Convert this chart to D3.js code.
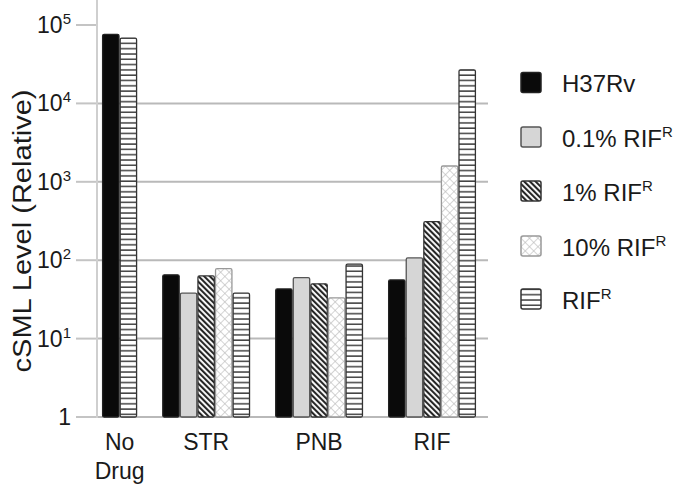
<!DOCTYPE html>
<html>
<head>
<meta charset="utf-8">
<script src="https://cdn.jsdelivr.net/npm/d3@7"></script>
<style>
  body { margin: 0; background: #fff; }
  svg text { font-family: "Liberation Sans", Arial, sans-serif; fill: #1a1a1a; }
</style>
</head>
<body>
<div id="chart"></div>
<script>
'use strict';

// categories along x
const categories = ['No Drug', 'STR', 'PNB', 'RIF'];
// series names (base text + superscript)
const seriesNames = ['H37Rv', '0.1% RIF', '1% RIF', '10% RIF', 'RIF'];
const seriesSup = ['', 'R', 'R', 'R', 'R'];
// values per series, one per category (null = not measured)
const h37rv = [76000, 65, 43, 56];
const rif01 = [null, 38, 60, 107];
const rif1 = [null, 63, 50, 310];
const rif10 = [null, 78, 33, 1590];
const rifR = [68000, 38, 89, 26800];
const seriesValues = [h37rv, rif01, rif1, rif10, rifR];
// y ticks
const yTicks = [1, 10, 100, 1000, 10000, 100000];
const yTickExp = ['', '1', '2', '3', '4', '5'];

const width = 680, height = 485;

let svg = d3.select('#chart').append('svg')
    .attr('width', width)
    .attr('height', height);

// patterns
let defs = svg.append('defs');

let pHatch = defs.append('pattern')
    .attr('id', 'hatch')
    .attr('patternUnits', 'userSpaceOnUse')
    .attr('width', 4).attr('height', 4)
    .attr('patternTransform', 'rotate(-45)');
pHatch.append('rect').attr('width', 4).attr('height', 4).attr('fill', '#fff');
pHatch.append('line').attr('x1', 1).attr('y1', 0).attr('x2', 1).attr('y2', 4)
    .attr('stroke', '#262626').attr('stroke-width', 2.2);

let pCross = defs.append('pattern')
    .attr('id', 'cross')
    .attr('patternUnits', 'userSpaceOnUse')
    .attr('width', 6).attr('height', 6)
    .attr('patternTransform', 'rotate(45)');
pCross.append('rect').attr('width', 6).attr('height', 6).attr('fill', '#fff');
pCross.append('line').attr('x1', 0).attr('y1', 0).attr('x2', 0).attr('y2', 6)
    .attr('stroke', '#b8b8b8').attr('stroke-width', 1.2);
pCross.append('line').attr('x1', 0).attr('y1', 0).attr('x2', 6).attr('y2', 0)
    .attr('stroke', '#b8b8b8').attr('stroke-width', 1.2);

let pStripe = defs.append('pattern')
    .attr('id', 'stripe')
    .attr('patternUnits', 'userSpaceOnUse')
    .attr('width', 6).attr('height', 5.3);
pStripe.append('rect').attr('width', 6).attr('height', 5.3).attr('fill', '#fff');
pStripe.append('line').attr('x1', 0).attr('y1', 1).attr('x2', 6).attr('y2', 1)
    .attr('stroke', '#333').attr('stroke-width', 1.4);

const fills = ['#0a0a0a', '#d6d6d6', 'url(#hatch)', 'url(#cross)', 'url(#stripe)'];
const strokes = ['#222', '#555', '#333', '#999', '#333'];

// scales
let y = d3.scaleLog().domain([1, 100000]).range([417, 25]);

// bar slots: each bar takes one unit, groups separated by a gap
const gapUnits = 1.42;
let slots = [];
let cursor = 0;
let catCenters = [];
categories.forEach(function(c, ci) {
    if (ci > 0) cursor += gapUnits;
    let start = cursor;
    seriesValues.forEach(function(vals, si) {
        if (vals[ci] !== null) {
            slots.push({cat: ci, series: si, value: vals[ci], unit: cursor});
            cursor += 1;
        }
    });
    catCenters.push((start + cursor) / 2);
});
let x = d3.scaleLinear().domain([0, cursor]).range([102, 476]);
const bw = x(1) - x(0);

// grid lines
let g = svg.append('g');
g.selectAll('.grid')
    .data(yTicks.slice(0, 5))
    .enter().append('line')
    .attr('x1', 97).attr('x2', 488)
    .attr('y1', d => y(d)).attr('y2', d => y(d))
    .attr('stroke', '#b9b9b9').attr('stroke-width', 2);

// tick marks
g.selectAll('.tick')
    .data(yTicks)
    .enter().append('line')
    .attr('x1', 76).attr('x2', 97)
    .attr('y1', d => y(d)).attr('y2', d => y(d))
    .attr('stroke', '#c4c4c4').attr('stroke-width', 2);

// y axis line
g.append('line')
    .attr('x1', 97).attr('x2', 97)
    .attr('y1', 0).attr('y2', 418)
    .attr('stroke', '#cfcfcf').attr('stroke-width', 2);

// tick labels
let labels = g.selectAll('.tl')
    .data(yTicks)
    .enter().append('text')
    .attr('x', 71)
    .attr('y', d => y(d) + 8)
    .attr('text-anchor', 'end')
    .style('font-size', '23px');
labels.append('tspan').text((d, i) => i === 0 ? '1' : '10');
labels.append('tspan')
    .attr('dy', -9)
    .style('font-size', '15px')
    .text((d, i) => yTickExp[i]);

// bars
g.selectAll('.bar')
    .data(slots)
    .enter().append('rect')
    .attr('x', d => x(d.unit) + 0.6)
    .attr('width', bw - 1.2)
    .attr('y', d => y(d.value))
    .attr('height', d => y(1) - y(d.value))
    .attr('rx', 1.5)
    .attr('fill', d => fills[d.series])
    .attr('stroke', d => strokes[d.series])
    .attr('stroke-width', 1.3);

// category labels
categories.forEach(function(c, ci) {
    let t = g.append('text')
        .attr('x', x(catCenters[ci]))
        .attr('y', 450)
        .attr('text-anchor', 'middle')
        .style('font-size', '23px');
    let parts = c.split(' ');
    parts.forEach(function(p, pi) {
        t.append('tspan')
            .attr('x', x(catCenters[ci]))
            .attr('dy', pi === 0 ? 0 : 29)
            .text(p);
    });
});

// y axis title
svg.append('text')
    .attr('transform', 'translate(31,231) rotate(-90)')
    .attr('text-anchor', 'middle')
    .attr('textLength', 283)
    .attr('lengthAdjust', 'spacingAndGlyphs')
    .style('font-size', '25px')
    .text('cSML Level (Relative)');

// legend
let legend = svg.append('g');
const legendY = [82.5, 137, 191, 246, 299];
seriesNames.forEach(function(name, i) {
    let row = legend.append('g')
        .attr('transform', 'translate(521,' + legendY[i] + ')');
    row.append('rect')
        .attr('x', 0).attr('y', -10)
        .attr('width', 20).attr('height', 20)
        .attr('rx', 2)
        .attr('fill', fills[i])
        .attr('stroke', strokes[i])
        .attr('stroke-width', 1.5);
    let t = row.append('text')
        .attr('x', 41).attr('y', 9.5)
        .style('font-size', '24px');
    t.append('tspan').text(name);
    if (seriesSup[i]) {
        t.append('tspan')
            .attr('dy', -10)
            .style('font-size', '15px')
            .text(seriesSup[i]);
    }
});
</script>
</body>
</html>
